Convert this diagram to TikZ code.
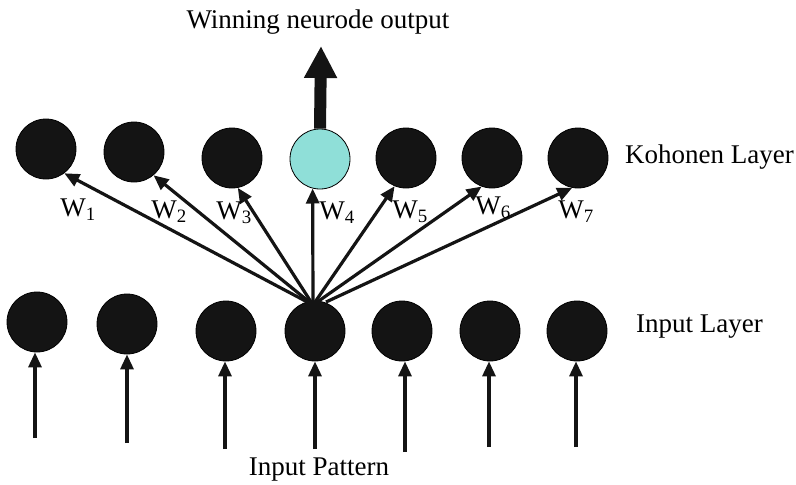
\documentclass[tikz,border=0pt]{standalone}
\usepackage{fontspec}
\setmainfont{Liberation Serif}
\usetikzlibrary{arrows.meta}
\definecolor{ink}{HTML}{141414}
\definecolor{winner}{HTML}{8FDFD8}
\begin{document}
\begin{tikzpicture}[x=1pt,y=-1pt,
  neuron/.style={circle,draw=black,line width=0.8pt,fill=ink,minimum size=60pt,inner sep=0pt},
  conn/.style={draw=ink,line width=3.2pt,-{Triangle[length=15pt,width=13pt]}},
  lbl/.style={inner sep=0pt,font=\fontsize{27}{32}\selectfont},
  wlbl/.style={inner sep=0pt,font=\fontsize{27}{32}\selectfont}]
\useasboundingbox (0,0) rectangle (796,485);
% Kohonen layer
\node[neuron] (k1) at (46,149) {};
\node[neuron] (k2) at (134,152) {};
\node[neuron] (k3) at (232,158) {};
\node[neuron,fill=winner] (k4) at (320,159) {};
\node[neuron] (k5) at (406,158) {};
\node[neuron] (k6) at (492,158) {};
\node[neuron] (k7) at (578,158) {};
% Input layer
\node[neuron] (i1) at (37,322) {};
\node[neuron] (i2) at (127,324) {};
\node[neuron] (i3) at (226,331) {};
\node[neuron] (i4) at (315,331) {};
\node[neuron] (i5) at (402,331) {};
\node[neuron] (i6) at (490,331) {};
\node[neuron] (i7) at (577,331) {};
% sources
\coordinate (src) at (313,305);
\coordinate (srcr) at (326,302);
\coordinate (p1) at (35,438);
\coordinate (p2) at (127,443);
\coordinate (p3) at (225,449);
\coordinate (p4) at (315,449);
\coordinate (p5) at (405,452);
\coordinate (p6) at (489,447);
\coordinate (p7) at (576,447);
\coordinate (outtip) at (321,46);
% weight connectors
\draw[conn] (src) -- (k1.-53);
\draw[conn] (src) -- (k2.-50);
\draw[conn] (src) -- (k3.-79);
\draw[conn] (src) -- (k4.-104);
\draw[conn] (src) -- (k5.-112);
\draw[conn] (src) -- (k6.-110);
\draw[conn] (srcr) -- (k7.-101);
% input connectors
\foreach \i in {1,...,7}{
  \draw[conn] (p\i) -- (p\i |- i\i.south);
}
% output arrow
\draw[draw=ink,line width=12pt,-{Triangle[length=32pt,width=31pt]}] (k4.north) -- (outtip);
% labels
\node[lbl] (title) at (318,22) {Winning neurode output};
\node[lbl,anchor=west] (klayer) at (625,157) {Kohonen Layer};
\node[lbl,anchor=west] (ilayer) at (636,327) {Input Layer};
\node[lbl] (ipat) at (319,470) {Input Pattern};
\node[wlbl] (w1) at (78,210) {W\textsubscript{1}};
\node[wlbl] (w2) at (169,212) {W\textsubscript{2}};
\node[wlbl] (w3) at (234,213) {W\textsubscript{3}};
\node[wlbl] (w4) at (337,213) {W\textsubscript{4}};
\node[wlbl] (w5) at (410,212) {W\textsubscript{5}};
\node[wlbl] (w6) at (493,208) {W\textsubscript{6}};
\node[wlbl] (w7) at (576,212) {W\textsubscript{7}};
\end{tikzpicture}
\end{document}
